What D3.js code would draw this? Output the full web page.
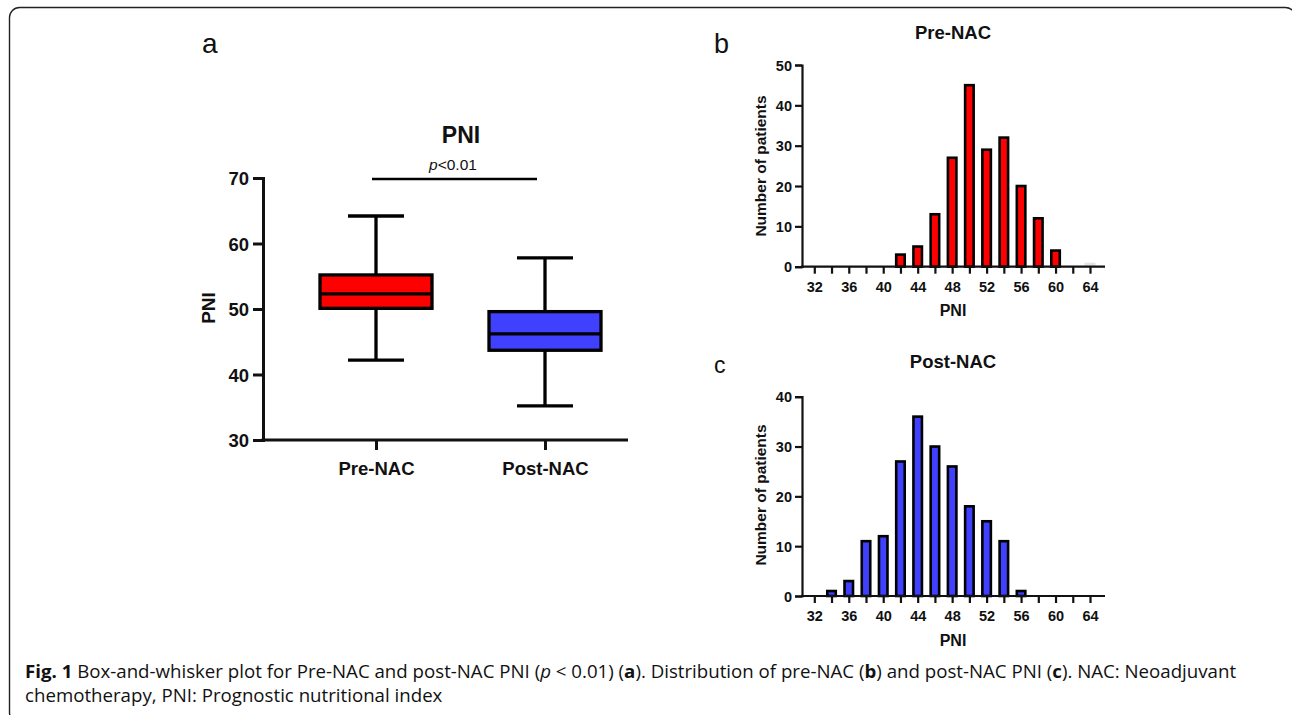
<!DOCTYPE html>
<html>
<head>
<meta charset="utf-8">
<script src="https://cdnjs.cloudflare.com/ajax/libs/d3/7.8.5/d3.min.js"></script>
<style>
body { margin: 0; background: #fff; }
svg text { font-family: "Liberation Sans", Arial, sans-serif; fill: #111; }
</style>
</head>
<body>
<svg id="fig" width="1292" height="715"></svg>
<script>

// box plot (panel a)
var groups = ["Pre-NAC", "Post-NAC"];
var boxMin = [42.2, 35.2];
var boxQ1 = [50.1, 43.7];
var boxMedian = [52.3, 46.2];
var boxQ3 = [55.2, 49.6];
var boxMax = [64.2, 57.8];
var boxTicks = [30, 40, 50, 60, 70];

// histograms (panels b, c)
var pniBins = [32, 34, 36, 38, 40, 42, 44, 46, 48, 50, 52, 54, 56, 58, 60, 62, 64];
var preCounts = [0, 0, 0, 0, 0, 3, 5, 13, 27, 45, 29, 32, 20, 12, 4, 0, 0];
var preGhostCounts = [0, 0, 0, 0, 0, 0, 0, 0, 0, 0, 0, 0, 0, 0, 0, 0, 1];
var postCounts = [0, 1, 3, 11, 12, 27, 36, 30, 26, 18, 15, 11, 1, 0, 0, 0, 0];
var pniTickLabels = [32, 36, 40, 44, 48, 52, 56, 60, 64];
var preCountTicks = [0, 10, 20, 30, 40, 50];
var postCountTicks = [0, 10, 20, 30, 40];

var red = "#ff0000";
var blue = "#4040ff";

var svg = d3.select("#fig");

// frame
svg.append("rect")
	.attr("x", 9.5).attr("y", 7.5)
	.attr("width", 1286).attr("height", 715)
	.attr("rx", 10)
	.attr("fill", "none")
	.attr("stroke", "#222")
	.attr("stroke-width", 1.4);

// ---------- panel a ----------
function drawBox() {

	var g = svg.append("g");
	var x0 = 263, x1 = 628;

	var y = d3.scaleLinear().domain([30, 70]).range([440, 178]);
	var x = d3.scalePoint().domain(groups).range([376, 545]);

	var yAxis = g.append("g")
		.attr("transform", "translate(" + x0 + ",0)")
		.call(d3.axisLeft(y).tickValues(boxTicks).tickSize(10).tickPadding(4));

	yAxis.select(".domain").attr("stroke-width", 3).attr("stroke", "#111");
	yAxis.selectAll(".tick line").attr("stroke-width", 3).attr("stroke", "#111");
	yAxis.selectAll(".tick text")
		.attr("font-size", 18.5).attr("font-weight", "bold")
		.attr("dy", "0.36em");

	var xAxis = g.append("g")
		.attr("transform", "translate(0,440)")
		.call(d3.axisBottom(x).tickSize(10).tickPadding(12));

	xAxis.select(".domain").remove();
	xAxis.selectAll(".tick line").attr("stroke-width", 3).attr("stroke", "#111");
	xAxis.selectAll(".tick text")
		.attr("font-size", 18.5).attr("font-weight", "bold");

	g.append("line")
		.attr("x1", x0 - 1.5).attr("x2", x1)
		.attr("y1", 440).attr("y2", 440)
		.attr("stroke", "#111").attr("stroke-width", 3);

	var boxW = 112, capW = 56;
	var colors = [red, blue];

	groups.forEach(function(name, i) {

		var cx = x(name);

		// whiskers
		g.append("line")
			.attr("x1", cx).attr("x2", cx)
			.attr("y1", y(boxMax[i])).attr("y2", y(boxMin[i]))
			.attr("stroke", "#000").attr("stroke-width", 3.3);

		[boxMax[i], boxMin[i]].forEach(function(v) {
			g.append("line")
				.attr("x1", cx - capW / 2).attr("x2", cx + capW / 2)
				.attr("y1", y(v)).attr("y2", y(v))
				.attr("stroke", "#000").attr("stroke-width", 3.3);
		});

		g.append("rect")
			.attr("x", cx - boxW / 2).attr("y", y(boxQ3[i]))
			.attr("width", boxW).attr("height", y(boxQ1[i]) - y(boxQ3[i]))
			.attr("fill", colors[i])
			.attr("stroke", "#000").attr("stroke-width", 3.3);

		g.append("line")
			.attr("x1", cx - boxW / 2).attr("x2", cx + boxW / 2)
			.attr("y1", y(boxMedian[i])).attr("y2", y(boxMedian[i]))
			.attr("stroke", "#000").attr("stroke-width", 3.3);

	});

	// significance bar
	g.append("line")
		.attr("x1", 372).attr("x2", 537)
		.attr("y1", 179).attr("y2", 179)
		.attr("stroke", "#000").attr("stroke-width", 2.6);

	var p = g.append("text")
		.attr("x", 453).attr("y", 170)
		.attr("text-anchor", "middle")
		.attr("font-size", 15.5);
	p.append("tspan").attr("font-style", "italic").text("p");
	p.append("tspan").text("<0.01");

	g.append("text")
		.attr("x", 461).attr("y", 143)
		.attr("text-anchor", "middle")
		.attr("font-size", 23).attr("font-weight", "bold")
		.text("PNI");

	g.append("text")
		.attr("transform", "translate(215,308) rotate(-90)")
		.attr("text-anchor", "middle")
		.attr("font-size", 19).attr("font-weight", "bold")
		.text("PNI");

	g.append("text")
		.attr("x", 202).attr("y", 53)
		.attr("font-family", "Open Sans")
		.attr("font-size", 28)
		.text("a");

}

// ---------- panels b, c ----------
function drawHist(opt) {

	var g = svg.append("g");
	var x0 = 802, x1 = 1105;

	var x = d3.scaleLinear().domain([32, 64]).range([814.3, 1090]);
	var y = d3.scaleLinear().domain(opt.yDomain).range([opt.yBottom, opt.yTop]);

	var yAxis = g.append("g")
		.attr("transform", "translate(" + x0 + ",0)")
		.call(d3.axisLeft(y).tickValues(opt.yTicks).tickSize(7).tickPadding(3));

	yAxis.select(".domain").attr("stroke-width", 2.2).attr("stroke", "#111");
	yAxis.selectAll(".tick line").attr("stroke-width", 2.2).attr("stroke", "#111");
	yAxis.selectAll(".tick text")
		.attr("font-size", 14.5).attr("font-weight", "bold")
		.attr("dy", "0.36em");

	var xAxis = g.append("g")
		.attr("transform", "translate(0," + opt.yBottom + ")")
		.call(d3.axisBottom(x)
			.tickValues(pniBins)
			.tickSize(7)
			.tickPadding(8)
			.tickFormat(function(d) { return pniTickLabels.indexOf(d) >= 0 ? d : ""; }));

	xAxis.select(".domain").remove();
	xAxis.selectAll(".tick line").attr("stroke-width", 2.2).attr("stroke", "#111");
	xAxis.selectAll(".tick text")
		.attr("font-size", 14.5).attr("font-weight", "bold");

	var barW = 8.5;

	if (opt.ghost) {
		g.selectAll("rect.ghost")
			.data(pniBins.map(function(b, i) { return {bin: b, n: opt.ghost[i]}; }).filter(function(d) { return d.n > 0; }))
			.enter()
			.append("rect")
			.attr("class", "ghost")
			.attr("x", function(d) { return x(d.bin) - (barW + 2.5) / 2; })
			.attr("y", function(d) { return y(d.n); })
			.attr("width", barW + 2.5)
			.attr("height", function(d) { return y(0) - y(d.n); })
			.attr("fill", "#e4e4e4");
	}

	g.selectAll("rect.bar")
		.data(pniBins.map(function(b, i) { return {bin: b, n: opt.counts[i]}; }).filter(function(d) { return d.n > 0; }))
		.enter()
		.append("rect")
		.attr("class", "bar")
		.attr("x", function(d) { return x(d.bin) - barW / 2; })
		.attr("y", function(d) { return y(d.n); })
		.attr("width", barW)
		.attr("height", function(d) { return y(0) - y(d.n); })
		.attr("fill", opt.color)
		.attr("stroke", "#000")
		.attr("stroke-width", 2.6);

	g.append("line")
		.attr("x1", x0 - 1.1).attr("x2", x1)
		.attr("y1", opt.yBottom).attr("y2", opt.yBottom)
		.attr("stroke", "#111").attr("stroke-width", 2.2);

	g.append("text")
		.attr("x", 953).attr("y", opt.titleY)
		.attr("text-anchor", "middle")
		.attr("font-size", 18.5).attr("font-weight", "bold")
		.text(opt.title);

	g.append("text")
		.attr("x", 953).attr("y", opt.xLabelY)
		.attr("text-anchor", "middle")
		.attr("font-size", 16).attr("font-weight", "bold")
		.text("PNI");

	g.append("text")
		.attr("transform", "translate(766," + opt.yLabelMid + ") rotate(-90)")
		.attr("text-anchor", "middle")
		.attr("font-size", 15.5).attr("font-weight", "bold")
		.text("Number of patients");

	g.append("text")
		.attr("x", 714).attr("y", opt.letterY)
		.attr("font-family", "Open Sans")
		.attr("font-size", opt.letterSize)
		.text(opt.letter);

}

drawBox();

drawHist({
	counts: preCounts,
	ghost: preGhostCounts,
	yDomain: [0, 50],
	yTicks: preCountTicks,
	yBottom: 266.7,
	yTop: 65,
	color: red,
	title: "Pre-NAC",
	titleY: 39,
	xLabelY: 316,
	yLabelMid: 166,
	letter: "b",
	letterY: 53,
	letterSize: 27
});

drawHist({
	counts: postCounts,
	yDomain: [0, 40],
	yTicks: postCountTicks,
	yBottom: 596,
	yTop: 396.7,
	color: blue,
	title: "Post-NAC",
	titleY: 368,
	xLabelY: 646,
	yLabelMid: 495,
	letter: "c",
	letterY: 373,
	letterSize: 23
});

// ---------- caption ----------
var line1 = [
	{t: "Fig. 1", b: true},
	{t: " Box-and-whisker plot for Pre-NAC and post-NAC PNI ("},
	{t: "p", i: true},
	{t: " < 0.01) ("},
	{t: "a", b: true},
	{t: "). Distribution of pre-NAC ("},
	{t: "b", b: true},
	{t: ") and post-NAC PNI ("},
	{t: "c", b: true},
	{t: "). NAC: Neoadjuvant"}
];
var line2 = [{t: "chemotherapy, PNI: Prognostic nutritional index"}];

function captionLine(parts) {
	var t = svg.append("text")
		.attr("x", 0).attr("y", 0)
		.attr("font-size", 18.5)
		.style("font-family", "'Open Sans', sans-serif")
		.attr("fill", "#222");
	parts.forEach(function(p) {
		var s = t.append("tspan").text(p.t);
		if (p.b) s.attr("font-weight", "bold");
		if (p.i) s.attr("font-style", "italic");
	});
	return t;
}

var c1 = captionLine(line1);
var c2 = captionLine(line2);
var scale = 1212 / c1.node().getComputedTextLength();
c1.attr("transform", "translate(25,678) scale(" + scale + ",1)");
c2.attr("transform", "translate(25,702) scale(" + scale + ",1)");

</script>
</body>
</html>
